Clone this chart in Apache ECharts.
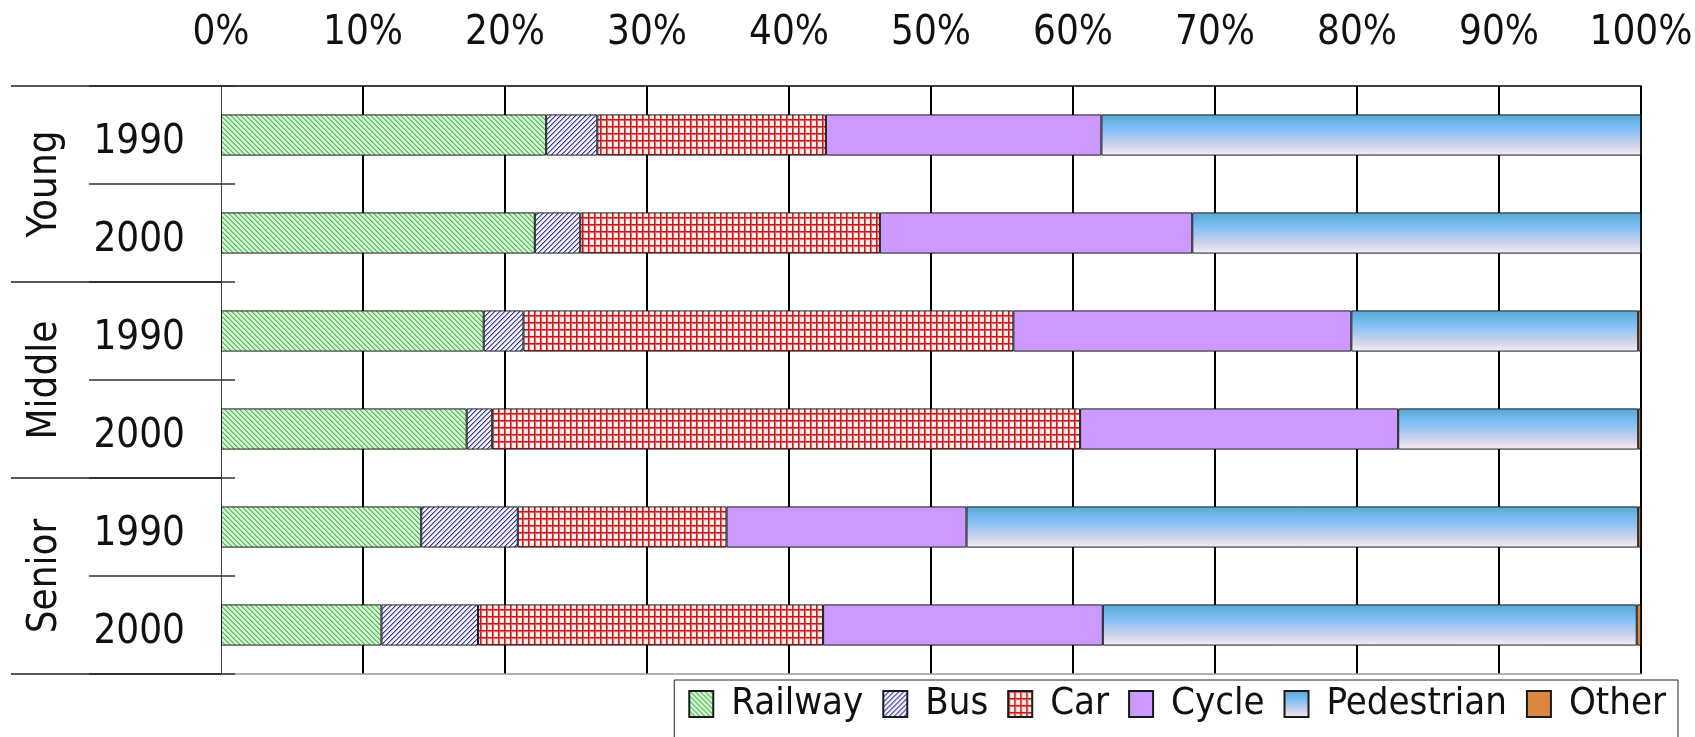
<!DOCTYPE html>
<html>
<head>
<meta charset="utf-8">
<script src="https://cdn.jsdelivr.net/npm/echarts@6/dist/echarts.min.js"></script>
<style>
    html, body { margin: 0; padding: 0; background: #fff; }
    #mainChart { width: 1695px; height: 737px; }
</style>
</head>
<body>
<div id="mainChart"></div>
<script>
// categories
var groups = ['Young', 'Middle', 'Senior']
var years = ['1990', '2000']

// share of trips (%), rows: Young 1990, Young 2000, Middle 1990, Middle 2000, Senior 1990, Senior 2000
var railway = [22.9, 22.1, 18.5, 17.3, 14.1, 11.3]
var bus = [3.6, 3.2, 2.8, 1.8, 6.8, 6.8]
var car = [16.1, 21.1, 34.5, 41.4, 14.7, 24.3]
var cycle = [19.4, 22.0, 23.8, 22.4, 16.9, 19.7]
var pedestrian = [38.0, 31.6, 20.2, 16.9, 47.3, 37.6]
var other = [0, 0, 0.2, 0.2, 0.2, 0.3]

var seriesNames = ['Railway', 'Bus', 'Car', 'Cycle', 'Pedestrian', 'Other']
var seriesData = [railway, bus, car, cycle, pedestrian, other]

var rows = []
for (var i = 0; i < groups.length; i++) {
    for (var j = 0; j < years.length; j++) {
        rows.push(groups[i] + ' ' + years[j])
    }
}

var font = "'Liberation Sans Narrow', 'DejaVu Sans Condensed', sans-serif"

// small canvas tiles for the hatched fills
function makeTile(w, h, bg, paint) {
    var c = document.createElement('canvas')
    c.width = w
    c.height = h
    var ctx = c.getContext('2d')
    ctx.fillStyle = bg
    ctx.fillRect(0, 0, w, h)
    for (var y = 0; y < h; y++) {
        for (var x = 0; x < w; x++) {
            var col = paint(x, y)
            if (col) {
                ctx.fillStyle = col
                ctx.fillRect(x, y, 1, 1)
            }
        }
    }
    return c
}

var railTile = makeTile(5, 5, '#d2f4d2', function (x, y) {
    var d = (x - y + 5) % 5
    if (d === 0) return '#58bb58'
    if (d === 1) return '#92d692'
    return null
})
var busTile = makeTile(5, 5, '#f1f1fb', function (x, y) {
    var d = (x + y) % 5
    if (d === 0) return '#3a3a96'
    if (d === 1) return '#9a9ad0'
    return null
})
var carTile = makeTile(6, 7, '#fbe0e0', function (x, y) {
    if (x === 0 || y === 0) return '#c41c1c'
    if (x === 1 || y === 1) return '#e06868'
    if (x >= 3 && x <= 4 && y >= 3 && y <= 5) return '#fff6f6'
    return null
})

var colors = [
    {image: railTile, repeat: 'repeat'},
    {image: busTile, repeat: 'repeat'},
    {image: carTile, repeat: 'repeat'},
    '#cc99ff',
    {
        type: 'linear', x: 0, y: 0, x2: 0, y2: 1,
        colorStops: [
            {offset: 0, color: '#56a8d4'},
            {offset: 0.35, color: '#80bff6'},
            {offset: 0.72, color: '#c9d0ea'},
            {offset: 1, color: '#f6edf8'}
        ]
    },
    '#dd8640'
]

var series = []
for (var k = 0; k < seriesNames.length; k++) {
    series.push({
        name: seriesNames[k],
        type: 'bar',
        stack: 'total',
        barWidth: '42%',
        xAxisIndex: 0,
        yAxisIndex: 0,
        data: seriesData[k],
        itemStyle: {
            color: colors[k],
            borderColor: '#1a1a1a',
            borderWidth: 1
        }
    })
}

var myChart = echarts.init(document.getElementById('mainChart'))
var option = {
    animation: false,
    backgroundColor: '#fff',
    textStyle: {fontFamily: font},
    grid: {
        left: 221,
        right: 54,
        top: 86,
        bottom: 63,
        outerBoundsMode: 'none'
    },
    legend: {
        data: seriesNames,
        top: 680,
        right: 17,
        icon: 'rect',
        itemWidth: 24,
        itemHeight: 26,
        itemGap: 19,
        selectedMode: false,
        borderColor: '#222',
        borderWidth: 1,
        padding: [5, 12, 30, 14],
        textStyle: {
            fontFamily: font,
            fontSize: 38,
            color: '#111',
            padding: [0, 0, 0, 13]
        }
    },
    xAxis: [
        {
            type: 'value',
            position: 'top',
            min: 0,
            max: 100,
            interval: 10,
            axisLine: {show: true, lineStyle: {color: '#000', width: 1.5}},
            axisTick: {show: false},
            axisLabel: {
                formatter: '{value}%',
                margin: 32,
                fontSize: 40,
                color: '#111',
                fontFamily: font
            },
            splitLine: {show: true, showMinLine: false, lineStyle: {color: '#000', width: 2}}
        },
        {
            type: 'value',
            position: 'bottom',
            min: 0,
            max: 100,
            interval: 10,
            axisLine: {show: true, lineStyle: {color: '#999', width: 1.5}},
            axisTick: {show: false},
            axisLabel: {show: false},
            splitLine: {show: false}
        }
    ],
    yAxis: [
        {
            type: 'category',
            data: rows,
            inverse: true,
            position: 'left',
            axisLine: {show: true, lineStyle: {color: '#444', width: 1}},
            axisTick: {show: true, interval: 0, length: 132, lineStyle: {color: '#333', width: 1.5}},
            axisLabel: {
                interval: 0,
                margin: 36,
                color: '#111',
                formatter: function (v) {
                    return '{y|' + v.split(' ')[1] + '}'
                },
                rich: {
                    y: {
                        fontSize: 40,
                        fontFamily: font,
                        color: '#111',
                        padding: [15, 0, 0, 0]
                    }
                }
            }
        },
        {
            type: 'category',
            data: groups,
            inverse: true,
            position: 'left',
            axisLine: {show: false},
            axisTick: {show: true, interval: 0, length: 210, lineStyle: {color: '#222', width: 1.5}},
            axisLabel: {
                interval: 0,
                rotate: 90,
                margin: 155,
                fontSize: 40,
                color: '#111',
                fontFamily: font
            }
        },
        {
            type: 'category',
            data: rows,
            inverse: true,
            position: 'left',
            axisLine: {show: false},
            axisTick: {show: true, inside: true, interval: 0, length: 14, lineStyle: {color: '#333', width: 1.5}},
            axisLabel: {show: false}
        }
    ],
    series: series
}
myChart.setOption(option)
</script>
</body>
</html>
